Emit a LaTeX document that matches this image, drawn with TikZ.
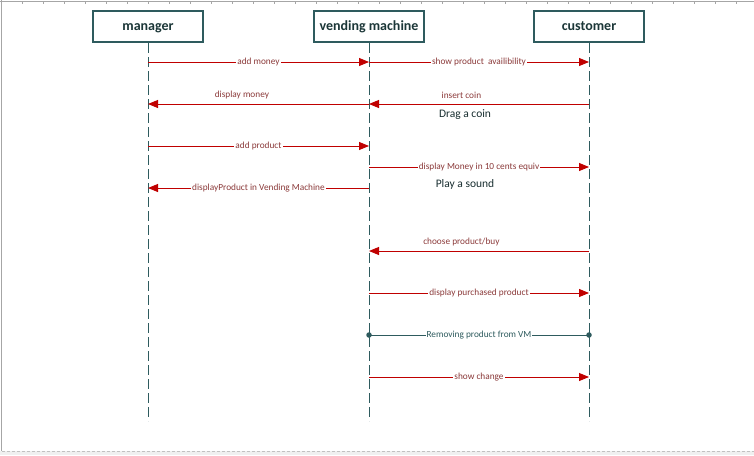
\documentclass[tikz,border=0pt]{standalone}
\usepackage{fontspec}
\setmainfont{Carlito}
\usetikzlibrary{arrows.meta}
\definecolor{teal}{HTML}{2E5B5E}
\definecolor{msgred}{HTML}{C00000}
\definecolor{lbl}{HTML}{8B3A3A}
\definecolor{frame}{HTML}{A6A6A6}
\tikzset{
  actor/.style={draw=teal, line width=2pt, minimum width=110pt, minimum height=31pt, text height=8pt, text depth=1pt, font=\fontsize{14}{16}\selectfont\bfseries, text=teal!60!black, fill=white},
  life/.style={draw=teal, line width=0.9pt, dash pattern=on 10pt off 4pt},
  msg/.style={draw=msgred, line width=0.9pt, -{Triangle[length=10pt,width=8pt]}},
  onl/.style={font=\fontsize{9.3}{10}\selectfont, text=lbl, fill=white, inner sep=1pt},
  abv/.style={font=\fontsize{9.3}{10}\selectfont, text=lbl, inner sep=1pt},
  note/.style={font=\fontsize{11.5}{13}\selectfont, text=teal!50!black},
  dotl/.style={draw=teal, line width=0.9pt},
  dot/.style={fill=teal, circle, inner sep=0pt, minimum size=5.5pt},
}
\begin{document}
\begin{tikzpicture}[x=1pt,y=-1pt]
\useasboundingbox (0,0) rectangle (754,455);
% frame
\fill[gray!12] (0,451) rectangle (754,455);
\draw[frame, line width=0.8pt] (1.5,0) -- (1.5,451);
\draw[frame, line width=1pt] (0,1) -- (754,1);
\foreach \t in {1,22,...,754} \draw[frame, line width=0.6pt] (\t,1) -- (\t,4);
\draw[frame!70, line width=0.8pt, dash pattern=on 3pt off 2pt] (2,451) -- (754,451);
% actors
\node[actor] (m) at (148,26.5) {manager};
\node[actor] (v) at (369,26.5) {vending machine};
\node[actor] (c) at (589,26.5) {customer};
\coordinate (me) at (148,421);
\coordinate (ve) at (369,421);
\coordinate (ce) at (589,421);
\draw[life] (m.south) -- (me);
\draw[life] (v.south) -- (ve);
\draw[life] (c.south) -- (ce);
% message anchors
\foreach \n/\y in {1/62,2/104,3/146,4/167,5/188,6/251,7/293,8/335,9/377}{
  \coordinate (m\n) at (148,\y);
  \coordinate (v\n) at (369,\y);
  \coordinate (c\n) at (589,\y);
}
\draw[msg] (m1) -- node[onl, pos=0.5] {add money} (v1);
\draw[msg] (v1) -- node[onl, pos=0.5] {show product\ \ availibility} (c1);
\draw[msg] (v2) -- node[abv, above=4pt, pos=0.575] {display money} (m2);
\draw[msg] (c2) -- node[abv, above=4pt, pos=0.58] {insert coin} (v2);
\node[note] (drag) at (465,114.5) {Drag a coin};
\draw[msg] (m3) -- node[onl, pos=0.5] {add product} (v3);
\draw[msg] (v4) -- node[onl, pos=0.5] {display Money in 10 cents equiv} (c4);
\draw[msg] (v5) -- node[onl, pos=0.5] {displayProduct in Vending Machine} (m5);
\node[note] (sound) at (465,184) {Play a sound};
\draw[msg] (c6) -- node[abv, above=4pt, pos=0.58] {choose product/buy} (v6);
\draw[msg] (v7) -- node[onl, pos=0.5] {display purchased product} (c7);
\draw[dotl] (v8) -- node[onl, pos=0.5, text=teal] {Removing product from VM} (c8);
\node[dot] (d1) at (v8) {};
\node[dot] (d2) at (c8) {};
\draw[msg] (v9) -- node[onl, pos=0.5] {show change} (c9);
\end{tikzpicture}
\end{document}
